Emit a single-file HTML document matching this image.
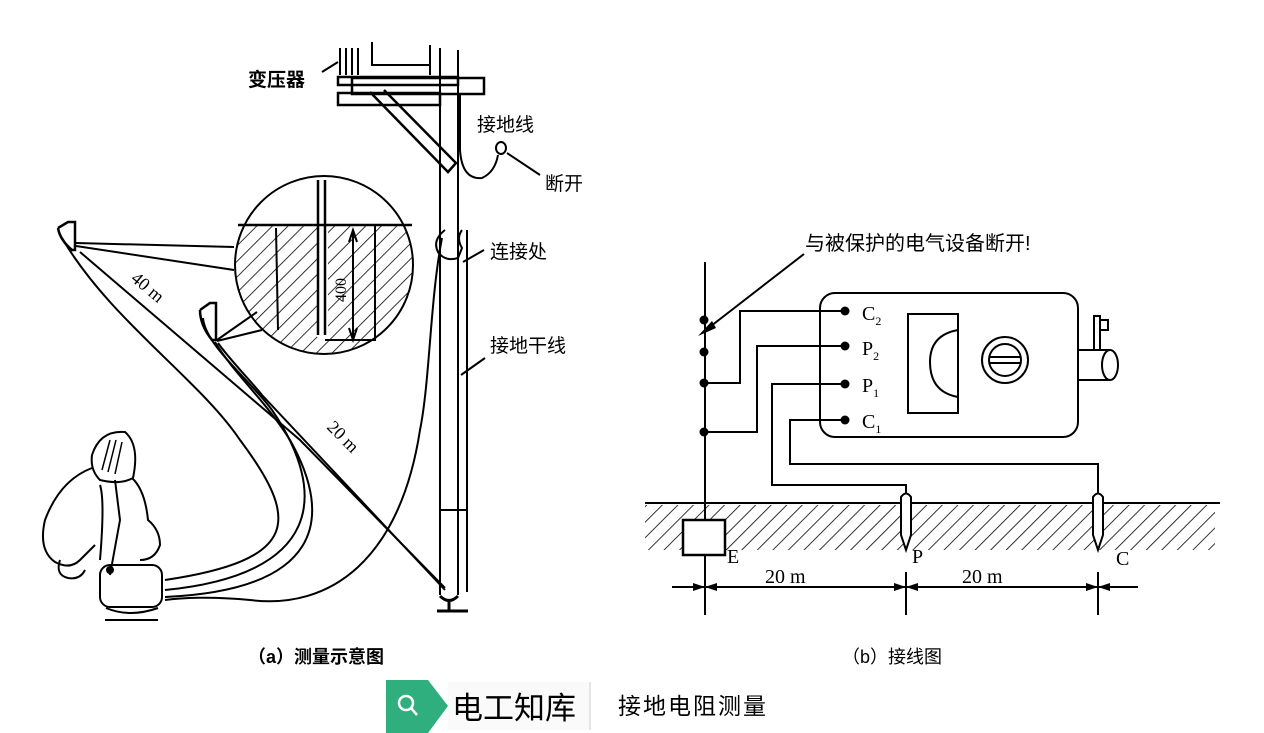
<!DOCTYPE html>
<html><head><meta charset="utf-8"><style>
body{margin:0;background:#fff;}
svg{display:block}
text{font-family:"Liberation Serif","Noto Serif CJK SC",serif;fill:#000}
.cjk{font-family:"Liberation Sans","Noto Sans CJK SC",sans-serif}
</style></head><body>
<svg width="1264" height="733" viewBox="0 0 1264 733" xmlns="http://www.w3.org/2000/svg">
<defs>
<pattern id="h" width="11" height="11" patternUnits="userSpaceOnUse" patternTransform="rotate(45)">
<line x1="0" y1="0" x2="0" y2="11" stroke="#000" stroke-width="1.6"/>
</pattern>
<clipPath id="cc"><circle cx="324" cy="265" r="89"/></clipPath>
</defs>
<g fill="none" stroke="#000" stroke-width="2">
<!-- transformer -->
<path d="M340 48 V75 M346 48 V75 M352 48 V75 M358 48 V75" />
<path d="M372 42 V65 H430 M430 45 V75 M440 48 V180 M458 50 V180"/>
<rect x="338" y="77" width="120" height="8" stroke-width="2.5"/>
<rect x="352" y="78" width="132" height="16" stroke-width="2.5"/>
<rect x="338" y="93" width="102" height="12" stroke-width="2.5"/>
<path d="M370 92 L448 172 L456 163 L384 90" stroke-width="2.5"/>
<path d="M338 62 L322 72"/>
<!-- pole -->
<path d="M440 175 V595 M458 175 V595 M467 230 V592"/>
<path d="M440 596 Q449 605 458 596 M449 602 V610 M437 611 H468" stroke-width="3"/>
<path d="M440 510 H467"/>
<!-- ground wire -->
<path d="M460 95 V150 Q462 180 482 178 Q495 172 498 155"/>
<ellipse cx="501" cy="148" rx="5" ry="6"/>
<path d="M507 153 L540 175"/>
<!-- connection -->
<path d="M445 230 Q432 240 438 252 Q445 262 458 258 L462 248 Q456 238 462 230"/>
<path d="M463 262 L484 250 M461 375 L485 358"/>
<!-- circle detail -->
<g clip-path="url(#cc)"><rect x="230" y="225" width="190" height="140" fill="url(#h)" stroke="none"/>
<rect x="317" y="225" width="11" height="112" fill="#fff" stroke="none"/>
</g>
<circle cx="324" cy="265" r="89"/>
<line x1="238" y1="225" x2="412" y2="225" stroke-width="2.5"/>
<path d="M318 180 V335 M325 180 V335" stroke-width="2.5"/>
<path d="M353 232 V338 M349 242 L353 230 L357 242 M349 328 L353 340 L357 328"/>
<path d="M325 340 H375 V225 M276 228 L278 330"/>
<!-- spikes -->
<path d="M58 228 L68 222 H75 V250 L72 250 Q60 240 58 228" stroke-width="2.5"/>
<path d="M200 310 L210 303 H216 V340 L212 340 Q200 325 200 310" stroke-width="2.5"/>
<path d="M76 243 L234 247 M76 246 L234 270"/>
<path d="M217 340 L257 312 M217 341 L262 330"/>
<!-- long leads -->
<path d="M62 238 C110 320 200 380 240 440 C300 520 300 560 165 580"/>
<path d="M80 252 L300 440 L445 588"/>
<path d="M203 318 C205 345 250 380 272 410 C330 495 320 575 165 590"/>
<path d="M218 343 C230 360 250 380 262 395 L445 590"/>
<path d="M215 342 C235 375 265 400 290 440 C335 520 320 590 165 597"/>
<path d="M442 238 C430 300 430 380 420 430 C400 560 330 610 250 600 C210 596 180 598 165 600"/>
<!-- person -->
<path d="M92 455 Q100 430 125 432 Q140 445 133 478 Q120 485 100 480 Q90 470 92 455"/>
<path d="M110 440 L102 470 M116 440 L108 472 M122 442 L115 474" stroke-width="1.5"/>
<path d="M92 468 Q60 480 45 520 Q38 550 55 562 Q70 570 80 560 L95 545"/>
<path d="M132 478 Q145 490 148 520 Q160 530 160 545 Q155 560 140 560"/>
<path d="M100 485 Q105 500 100 560 M115 480 L120 520 L110 575"/>
<path d="M60 560 Q55 575 68 578 Q80 580 85 570"/>
<rect x="100" y="565" width="62" height="42" rx="10"/>
<path d="M106 608 Q130 618 158 608 M105 620 H158"/>
</g>
<circle cx="110" cy="570" r="4" fill="#000"/>
<!-- labels left -->
<text x="248" y="86" class="cjk" font-size="19" font-weight="bold">变压器</text>
<text x="477" y="131" class="cjk" font-size="19">接地线</text>
<text x="545" y="190" class="cjk" font-size="19">断开</text>
<text x="490" y="258" class="cjk" font-size="19">连接处</text>
<text x="490" y="352" class="cjk" font-size="19">接地干线</text>
<text font-size="18" transform="translate(130,280) rotate(40)">40 m</text>
<text font-size="18" transform="translate(326,428) rotate(45)">20 m</text>
<text font-size="16" transform="translate(346,302) rotate(-90)">400</text>
<text x="248" y="663" class="cjk" font-size="18" font-weight="bold">（a）测量示意图</text>

<!-- right diagram -->
<g fill="none" stroke="#000" stroke-width="2">
<rect x="820" y="293" width="258" height="144" rx="15"/>
<rect x="908" y="314" width="50" height="99"/>
<path d="M958 330 Q930 335 930 362 Q930 392 958 397"/>
<circle cx="1005" cy="360" r="23"/><circle cx="1005" cy="360" r="16"/>
<path d="M990 357 H1020 M990 363 H1020"/>
<path d="M1078 350 H1110 M1078 380 H1110"/><ellipse cx="1110" cy="365" rx="8" ry="15"/>
<path d="M1094 350 V316 H1100 V350 M1100 320 H1108 V330 H1100"/>
<path d="M705 262 V615"/>
<path d="M845 311 H740 V383 H705 M845 346 H757 V432 H705 M845 384 H772 V485 H906 V495 M845 420 H790 V464 H1098 V495"/>
<line x1="645" y1="503" x2="1220" y2="503"/>
<path d="M804 254 L702 333"/>
<path d="M672 587 H1138 M906 572 V615 M1098 572 V615"/>
</g>
<rect x="645" y="505" width="570" height="45" fill="url(#h)"/>
<rect x="683" y="520" width="42" height="35" fill="#fff" stroke="#000" stroke-width="2.5"/>
<line x1="705" y1="503" x2="705" y2="520" stroke="#000" stroke-width="2"/>
<g fill="#fff" stroke="#000" stroke-width="2">
<path d="M901 497 Q906 490 911 497 V535 L906 550 L901 535 Z"/>
<path d="M1093 497 Q1098 490 1103 497 V535 L1098 550 L1093 535 Z"/>
</g>
<path d="M698 336 L712 321 L716 328 Z" fill="#000"/>
<g fill="#000">
<circle cx="704" cy="320" r="4.5"/><circle cx="704" cy="352" r="4.5"/><circle cx="704" cy="383" r="4.5"/><circle cx="704" cy="432" r="4.5"/>
<circle cx="845" cy="311" r="4.5"/><circle cx="845" cy="346" r="4.5"/><circle cx="845" cy="384" r="4.5"/><circle cx="845" cy="420" r="4.5"/>
<path d="M705 587 L693 583 V591 Z M705 587 L717 583 V591 Z M906 587 L894 583 V591 Z M906 587 L918 583 V591 Z M1098 587 L1086 583 V591 Z M1098 587 L1110 583 V591 Z"/>
</g>
<text x="805" y="250" class="cjk" font-size="20">与被保护的电气设备断开!</text>
<text x="862" y="320" font-size="20">C<tspan font-size="12" dy="5">2</tspan></text>
<text x="862" y="355" font-size="20">P<tspan font-size="12" dy="5">2</tspan></text>
<text x="862" y="392" font-size="20">P<tspan font-size="12" dy="5">1</tspan></text>
<text x="862" y="428" font-size="20">C<tspan font-size="12" dy="5">1</tspan></text>
<text x="727" y="563" font-size="20">E</text>
<text x="912" y="563" font-size="20">P</text>
<text x="1116" y="565" font-size="20">C</text>
<text x="765" y="583" font-size="20">20 m</text>
<text x="962" y="583" font-size="20">20 m</text>
<text x="842" y="663" class="cjk" font-size="18">（b）接线图</text>

<!-- bottom tag -->
<path d="M386 680 H428 L448 706 L428 733 H386 Z" fill="#2fae7e"/>
<circle cx="406" cy="703" r="7" fill="none" stroke="#fff" stroke-width="2.5"/>
<line x1="411" y1="708" x2="417" y2="715" stroke="#fff" stroke-width="2.5"/>
<rect x="448" y="682" width="142" height="48" fill="#fafafa"/>
<line x1="590" y1="682" x2="590" y2="730" stroke="#ddd" stroke-width="1.5"/>
<text x="452" y="719" class="cjk" font-size="31" style="font-family:'Noto Sans CJK SC',sans-serif">电工知库</text>
<text x="618" y="714" class="cjk" font-size="23" style="font-family:'Noto Sans CJK SC',sans-serif;letter-spacing:2px">接地电阻测量</text>
</svg>
</body></html>
